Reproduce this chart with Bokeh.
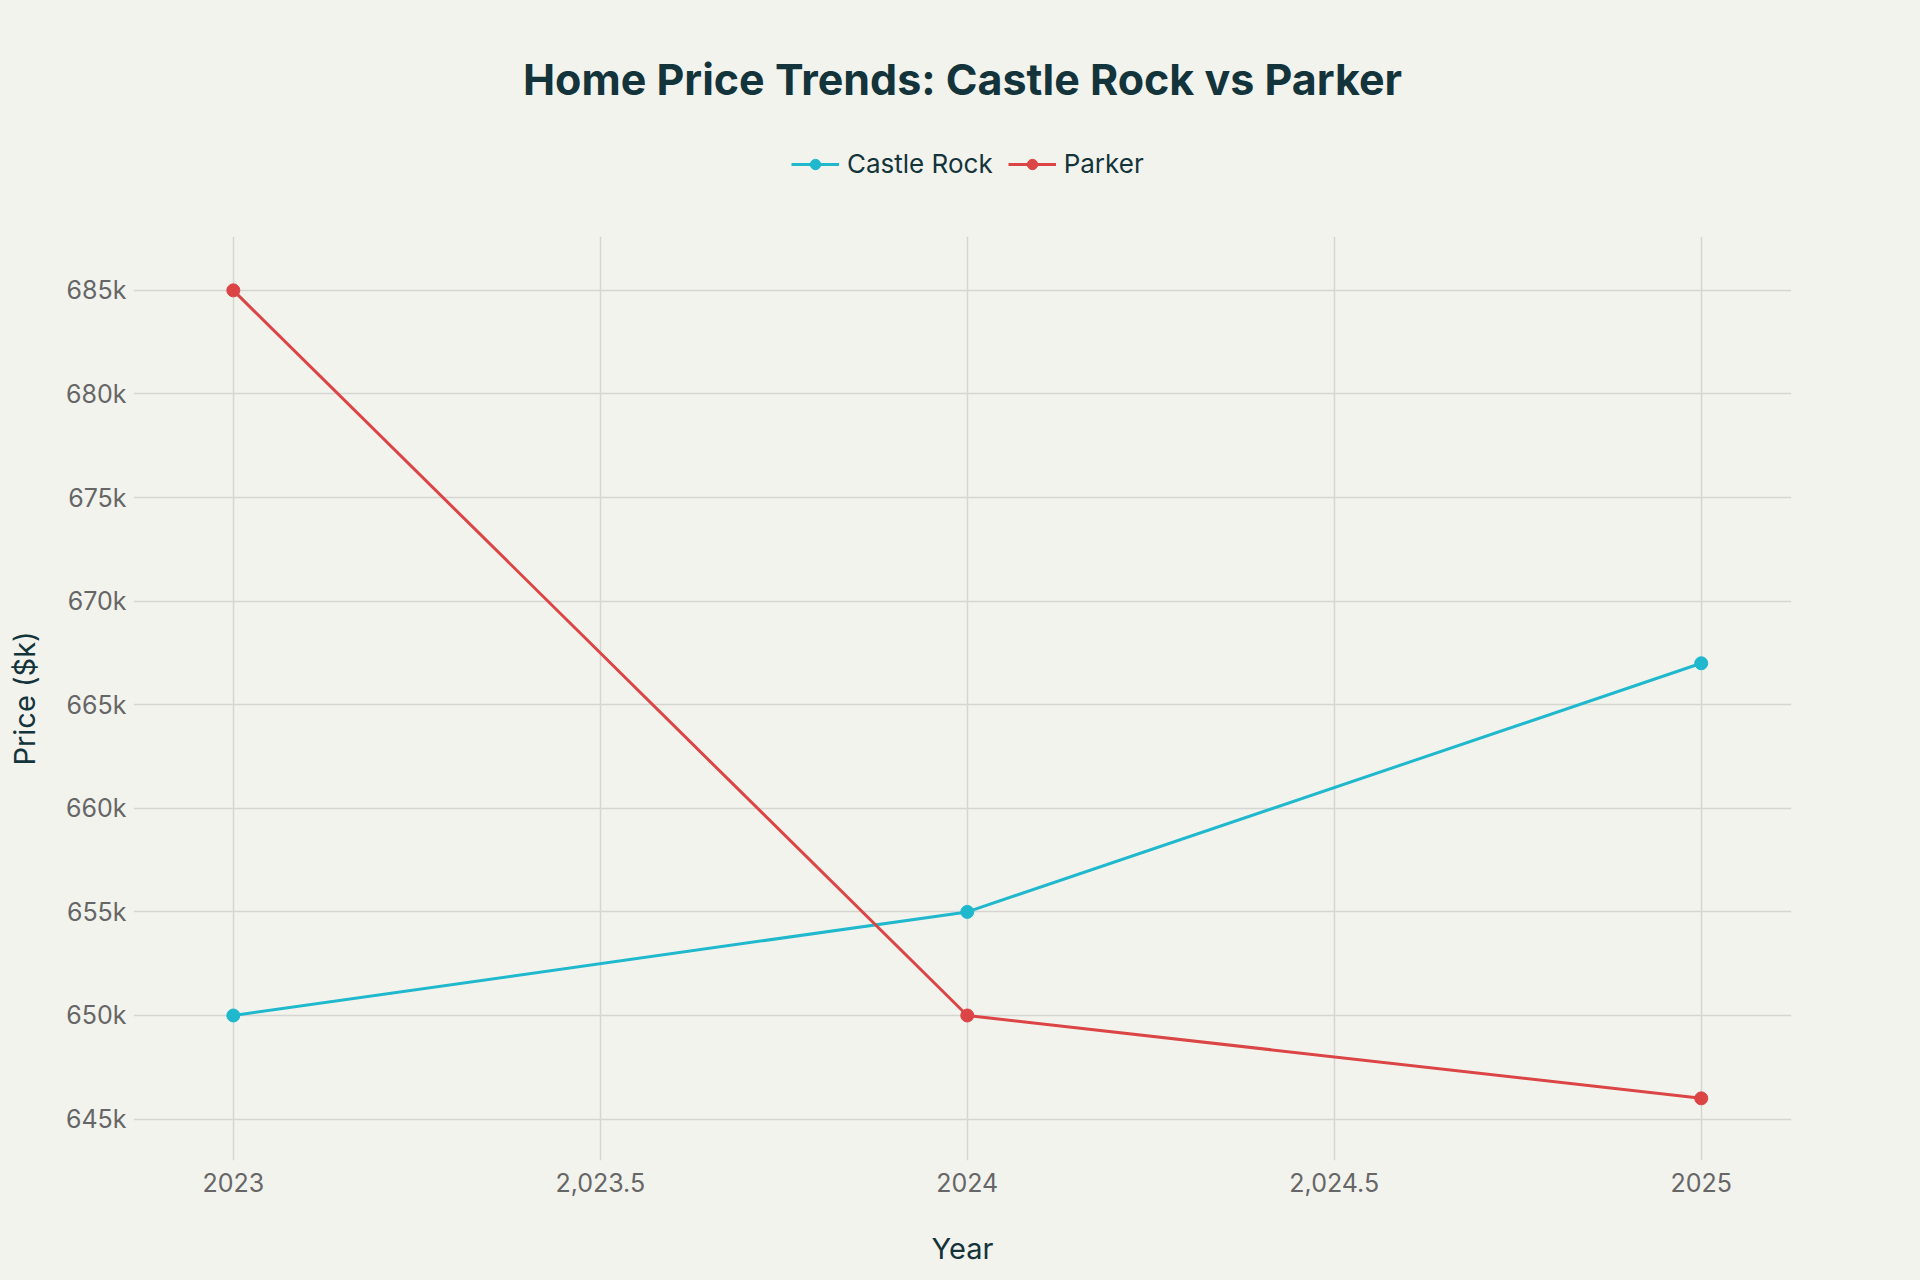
from bokeh.plotting import figure
from bokeh.layouts import column
from bokeh.models import FixedTicker, Legend, LegendItem, Range1d
from bokeh.embed import file_html
from bokeh.resources import INLINE

years = [2023, 2024, 2025]
castle_rock = [650, 655, 667]
parker = [685, 650, 646]
x_ticks = [2023, 2023.5, 2024, 2024.5, 2025]
x_tick_labels = ["2023", "2,023.5", "2024", "2,024.5", "2025"]
y_ticks = [645, 650, 655, 660, 665, 670, 675, 680, 685]
y_tick_labels = ["645k", "650k", "655k", "660k", "665k", "670k", "675k", "680k", "685k"]
series_names = ["Castle Rock", "Parker"]

BG = "#F3F3EE"
TEAL = "#1FB8CD"
RED = "#DB4545"
DARK = "#13343B"
FONT = "Inter"

# ---- header: title + legend ----
head = figure(width=1920, height=236, output_backend="svg", toolbar_location=None,
              x_range=Range1d(0, 1), y_range=Range1d(0, 1),
              x_axis_type=None, y_axis_type=None,
              min_border_left=0, min_border_right=0, min_border_top=140, min_border_bottom=0,
              background_fill_color=BG, border_fill_color=BG, outline_line_color=None,
              title="Home Price Trends: Castle Rock vs Parker",
              styles={"background-color": BG})
head.grid.visible = False
head.title.align = "center"
head.title.text_font = FONT
head.title.text_font_size = "43px"
head.title.text_font_style = "bold"
head.title.text_color = DARK
head.title.standoff = 72

# legend-only proxies (placed outside the visible range)
hl1 = head.line(x=[-5, -4], y=[-5, -4], line_color=TEAL, line_width=3)
hs1 = head.scatter(x=[-5], y=[-5], size=13, fill_color=TEAL, line_color=TEAL)
hl2 = head.line(x=[-5, -4], y=[-5, -4], line_color=RED, line_width=3)
hs2 = head.scatter(x=[-5], y=[-5], size=13, fill_color=RED, line_color=RED)

legend = Legend(items=[LegendItem(label=series_names[0], renderers=[hl1, hs1]),
                       LegendItem(label=series_names[1], renderers=[hl2, hs2])],
                orientation="horizontal", location=(658, 57),
                background_fill_alpha=0, border_line_color=None,
                label_text_font=FONT, label_text_font_size="26px", label_text_color=DARK,
                glyph_width=48, glyph_height=26, padding=0, spacing=15, label_standoff=8,
                margin=0)
head.add_layout(legend, "center")

# ---- main chart ----
p = figure(width=1920, height=1044, output_backend="svg", toolbar_location=None,
           x_range=Range1d(2022.864, 2025.123), y_range=Range1d(643.0, 687.6),
           min_border_left=133, min_border_right=129, min_border_top=0, min_border_bottom=120,
           background_fill_color=BG, border_fill_color=BG, outline_line_color=None,
           styles={"background-color": BG})

for ax in (p.xaxis[0], p.yaxis[0]):
    ax.axis_line_color = None
    ax.major_tick_line_color = None
    ax.minor_tick_line_color = None
    ax.major_tick_out = 0
    ax.major_tick_in = 0
    ax.minor_tick_out = 0
    ax.major_label_text_font = FONT
    ax.major_label_text_font_size = "25px"
    ax.major_label_text_color = "#666666"
    ax.axis_label_text_font = FONT
    ax.axis_label_text_font_size = "29px"
    ax.axis_label_text_font_style = "normal"
    ax.axis_label_text_color = DARK

p.xaxis.ticker = FixedTicker(ticks=x_ticks)
p.xaxis.major_label_overrides = {t: l for t, l in zip(x_ticks, x_tick_labels)}
p.xaxis.axis_label = "Year"
p.xaxis.major_label_standoff = 12
p.xaxis.axis_label_standoff = 36

p.yaxis.ticker = FixedTicker(ticks=y_ticks)
p.yaxis.major_label_overrides = {t: l for t, l in zip(y_ticks, y_tick_labels)}
p.yaxis.axis_label = "Price ($k)"
p.yaxis.major_label_standoff = 7
p.yaxis.axis_label_standoff = 21

p.xgrid.grid_line_color = "#D5D5D2"
p.ygrid.grid_line_color = "#D5D5D2"
p.xgrid.grid_line_width = 1.5
p.ygrid.grid_line_width = 1.5

p.line(years, castle_rock, line_color=TEAL, line_width=3)
p.scatter(years, castle_rock, size=13, fill_color=TEAL, line_color=TEAL)
p.line(years, parker, line_color=RED, line_width=3)
p.scatter(years, parker, size=13, fill_color=RED, line_color=RED)

layout = column(head, p, spacing=0, styles={"background-color": BG})
open("out.html", "w").write(file_html(layout, INLINE))
